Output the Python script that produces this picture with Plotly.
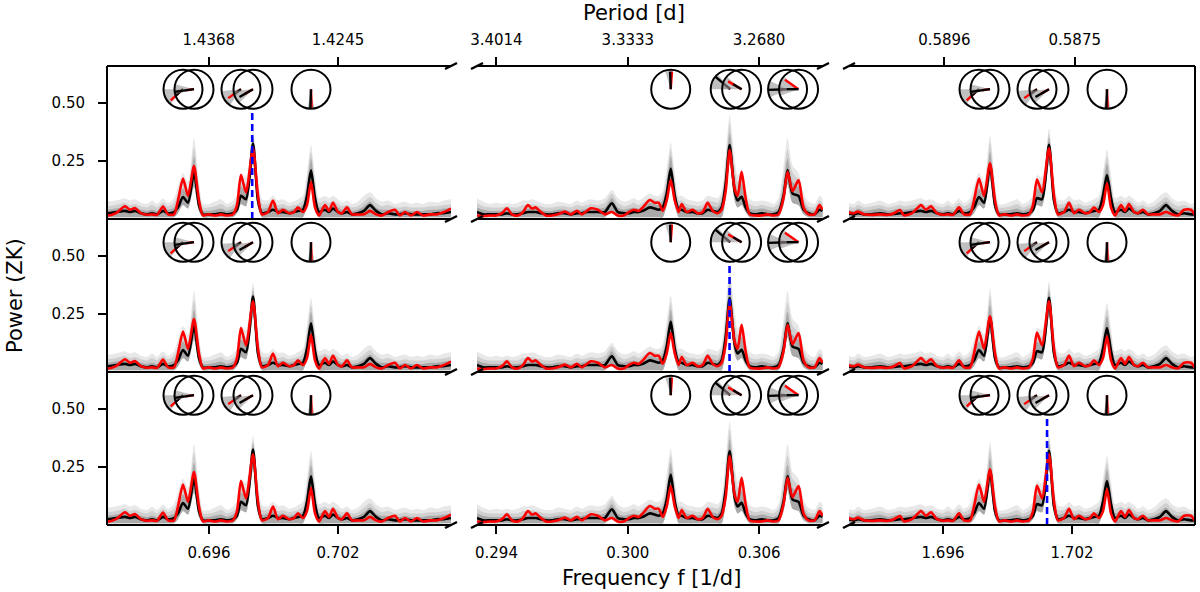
import math
import plotly.graph_objects as go

# ---------------- data ----------------
# column 1 : window around 0.698 1/d
f_c1 = [0.688698, 0.688977, 0.689163, 0.689442, 0.689814, 0.690186, 0.690558, 0.690837, 0.691116, 0.691302,
        0.691675, 0.692093, 0.692326, 0.692558, 0.692837, 0.693116, 0.693349, 0.693581, 0.693861, 0.694093,
        0.694372, 0.694558, 0.694791, 0.695023, 0.695302, 0.695535, 0.695721, 0.696000, 0.696279, 0.696558,
        0.696837, 0.697116, 0.697302, 0.697488, 0.697721, 0.698046, 0.698279, 0.698465, 0.698744, 0.698977,
        0.699209, 0.699442, 0.699721, 0.699953, 0.700139, 0.700372, 0.700558, 0.700744, 0.700930, 0.701116,
        0.701395, 0.701581, 0.701767, 0.702000, 0.702186, 0.702418, 0.702651, 0.702930, 0.703209, 0.703488,
        0.703767, 0.704046, 0.704325, 0.704651, 0.704883, 0.705116, 0.705395, 0.705674, 0.705953, 0.706279,
        0.706604, 0.706930, 0.707255]
red_c1 = [.030, .025, .032, .020, .018, .020, .018, .025, .039, .016,
          .025, .055, .040, .047, .025, .018, .020, .018, .054, .020,
          .020, .080, .175, .100, .228, .080, .016, .020, .015, .020,
          .015, .020, .060, .190, .115, .305, .100, .020, .030, .080,
          .025, .040, .025, .030, .050, .030, .060, .160, .050, .015,
          .060, .035, .070, .030, .025, .050, .020, .020, .020, .035,
          .020, .015, .030, .040, .015, .030, .015, .030, .015, .020,
          .020, .030, .045]
med_c1 = [.025, .020, .025, .020, .020, .025, .020, .022, .025, .025,
          .030, .035, .030, .035, .025, .020, .025, .020, .035, .025,
          .030, .050, .095, .070, .200, .060, .020, .020, .020, .025,
          .020, .025, .040, .100, .085, .325, .080, .025, .030, .040,
          .030, .030, .025, .030, .035, .040, .100, .210, .090, .030,
          .040, .030, .045, .030, .025, .030, .020, .025, .035, .060,
          .035, .020, .025, .020, .020, .025, .020, .020, .020, .020,
          .025, .025, .030]
lo_c1 = [.008, .008, .008, .008, .008, .008, .008, .008, .008, .008,
         .008, .008, .008, .008, .008, .008, .008, .008, .008, .008,
         .008, .025, .060, .045, .140, .035, .008, .008, .008, .008,
         .008, .008, .025, .065, .055, .240, .050, .008, .008, .008,
         .008, .008, .008, .008, .008, .008, .060, .150, .055, .008,
         .008, .008, .008, .008, .008, .008, .008, .008, .008, .008,
         .008, .008, .008, .008, .008, .008, .008, .008, .008, .008,
         .008, .008, .008]
dk_c1 = [.040, .035, .045, .035, .040, .045, .035, .040, .045, .040,
         .045, .050, .045, .050, .040, .035, .040, .035, .050, .040,
         .050, .080, .130, .100, .270, .100, .035, .035, .040, .045,
         .035, .045, .060, .140, .120, .350, .120, .045, .050, .060,
         .045, .050, .040, .045, .050, .060, .140, .260, .130, .050,
         .060, .050, .065, .050, .040, .045, .035, .040, .055, .075,
         .050, .040, .040, .035, .035, .040, .035, .035, .035, .040,
         .040, .045, .050]
md_c1 = [.055, .050, .060, .050, .055, .060, .050, .055, .060, .055,
         .060, .070, .060, .065, .055, .050, .060, .050, .070, .055,
         .070, .110, .170, .130, .310, .130, .050, .050, .055, .065,
         .050, .060, .080, .170, .150, .365, .150, .065, .065, .080,
         .060, .065, .055, .060, .065, .080, .170, .290, .160, .070,
         .080, .070, .080, .065, .055, .060, .050, .055, .075, .095,
         .070, .055, .060, .050, .050, .055, .050, .050, .050, .055,
         .055, .060, .065]
lt_c1 = [.070, .065, .080, .065, .070, .080, .065, .070, .080, .075,
         .080, .090, .080, .085, .070, .065, .080, .065, .090, .070,
         .090, .140, .200, .160, .350, .160, .065, .065, .075, .085,
         .065, .080, .100, .200, .180, .385, .180, .085, .080, .100,
         .080, .085, .070, .075, .085, .100, .200, .320, .190, .090,
         .100, .090, .100, .085, .070, .080, .065, .075, .100, .115,
         .090, .075, .080, .065, .070, .075, .065, .070, .065, .075,
         .070, .080, .085]

# column 2 : window around 0.302 1/d
f_c2 = [0.293110, 0.293384, 0.293703, 0.293977, 0.294251, 0.294479, 0.294707, 0.294981, 0.295209, 0.295437,
        0.295620, 0.295802, 0.296030, 0.296258, 0.296532, 0.296806, 0.297125, 0.297399, 0.297673, 0.297901,
        0.298129, 0.298312, 0.298631, 0.298951, 0.299270, 0.299544, 0.299817, 0.300046, 0.300274, 0.300502,
        0.300684, 0.301004, 0.301232, 0.301415, 0.301597, 0.301780, 0.301962, 0.302145, 0.302327, 0.302464,
        0.302692, 0.302966, 0.303194, 0.303422, 0.303650, 0.303879, 0.304107, 0.304289, 0.304472, 0.304654,
        0.304882, 0.305019, 0.305202, 0.305384, 0.305567, 0.305841, 0.306114, 0.306388, 0.306662, 0.306890,
        0.307118, 0.307301, 0.307529, 0.307803, 0.308031, 0.308259, 0.308533, 0.308761, 0.308898]
red_c2 = [.015, .012, .015, .015, .025, .046, .020, .015, .030, .060,
          .045, .050, .030, .015, .015, .020, .032, .020, .035, .020,
          .035, .046, .040, .020, .030, .015, .015, .030, .040, .035,
          .050, .082, .070, .070, .035, .080, .168, .080, .030, .065,
          .030, .040, .025, .030, .070, .035, .025, .040, .120, .297,
          .130, .100, .204, .090, .020, .015, .015, .020, .015, .020,
          .090, .204, .120, .168, .050, .020, .020, .060, .040]
med_c2 = [.030, .020, .020, .020, .020, .025, .020, .020, .025, .030,
          .030, .030, .025, .020, .020, .025, .025, .020, .025, .025,
          .030, .030, .030, .030, .068, .030, .025, .025, .030, .030,
          .035, .050, .045, .040, .050, .110, .218, .100, .040, .040,
          .030, .030, .025, .025, .040, .035, .030, .050, .150, .319,
          .120, .080, .096, .050, .025, .020, .025, .020, .020, .030,
          .100, .211, .110, .100, .040, .025, .020, .040, .035]
lo_c2 = [.008, .008, .008, .008, .008, .008, .008, .008, .008, .008,
         .008, .008, .008, .008, .008, .008, .008, .008, .008, .008,
         .008, .008, .008, .008, .030, .008, .008, .008, .008, .008,
         .008, .008, .008, .008, .008, .060, .160, .060, .008, .008,
         .008, .008, .008, .008, .008, .008, .008, .008, .090, .240,
         .080, .050, .060, .030, .008, .008, .008, .008, .008, .008,
         .060, .150, .070, .060, .020, .008, .008, .008, .008]
dk_c2 = [.050, .040, .035, .035, .035, .040, .035, .035, .040, .045,
         .045, .045, .040, .035, .035, .040, .040, .035, .040, .040,
         .045, .050, .045, .050, .090, .050, .040, .045, .050, .045,
         .050, .070, .065, .060, .080, .150, .270, .140, .060, .060,
         .050, .045, .040, .045, .060, .055, .050, .080, .200, .370,
         .180, .120, .150, .080, .045, .040, .045, .040, .035, .050,
         .150, .260, .160, .140, .070, .040, .035, .060, .050]
md_c2 = [.070, .055, .050, .050, .050, .055, .050, .050, .060, .060,
         .065, .060, .055, .050, .050, .055, .055, .050, .060, .055,
         .060, .065, .060, .070, .110, .070, .055, .060, .070, .060,
         .070, .090, .085, .080, .100, .180, .300, .170, .080, .080,
         .065, .060, .055, .060, .080, .075, .070, .100, .240, .410,
         .220, .160, .180, .110, .065, .055, .060, .055, .050, .070,
         .190, .300, .200, .170, .090, .055, .050, .080, .070]
lt_c2 = [.090, .075, .065, .070, .065, .070, .065, .070, .080, .080,
         .085, .080, .070, .065, .065, .075, .070, .065, .080, .070,
         .080, .085, .080, .090, .125, .090, .075, .080, .090, .080,
         .090, .110, .100, .100, .120, .220, .330, .200, .100, .100,
         .085, .080, .075, .080, .100, .095, .090, .120, .280, .448,
         .260, .190, .210, .130, .085, .075, .080, .075, .065, .090,
         .230, .350, .230, .200, .110, .075, .065, .100, .090]

# column 3 : window around 1.700 1/d (alias of column 1)
f_c3 = [1.691582, 1.691861, 1.692047, 1.692326, 1.692698, 1.693070, 1.693442, 1.693721, 1.694000, 1.694186,
        1.694559, 1.694977, 1.695210, 1.695442, 1.695721, 1.696000, 1.696233, 1.696465, 1.696745, 1.696977,
        1.697256, 1.697442, 1.697675, 1.697907, 1.698186, 1.698419, 1.698605, 1.698884, 1.699163, 1.699442,
        1.699721, 1.700000, 1.700186, 1.700372, 1.700605, 1.700930, 1.701163, 1.701349, 1.701628, 1.701861,
        1.702093, 1.702326, 1.702605, 1.702837, 1.703023, 1.703256, 1.703442, 1.703628, 1.703814, 1.704000,
        1.704279, 1.704465, 1.704651, 1.704884, 1.705070, 1.705302, 1.705535, 1.705814, 1.706093, 1.706372,
        1.706651, 1.706930, 1.707209, 1.707535, 1.707767, 1.708000, 1.708279, 1.708558, 1.708837, 1.709163,
        1.709488, 1.709814, 1.710139]
red_c3 = [.030, .025, .032, .020, .018, .020, .018, .025, .039, .016,
          .025, .060, .040, .055, .025, .018, .020, .018, .050, .020,
          .020, .080, .175, .100, .240, .080, .016, .020, .015, .020,
          .015, .020, .060, .170, .115, .305, .100, .020, .030, .070,
          .025, .040, .025, .030, .050, .030, .060, .154, .050, .015,
          .060, .035, .065, .030, .025, .040, .020, .020, .020, .030,
          .020, .015, .040, .040, .015, .030, .015, .030, .015, .020,
          .020, .030, .045]
med_c3 = [.025, .020, .025, .020, .020, .025, .020, .022, .025, .025,
          .030, .035, .030, .035, .025, .020, .025, .020, .035, .025,
          .030, .050, .095, .070, .235, .060, .020, .020, .020, .025,
          .020, .025, .040, .090, .085, .320, .080, .025, .030, .040,
          .030, .030, .025, .030, .035, .040, .100, .190, .090, .030,
          .040, .030, .045, .030, .025, .030, .020, .025, .035, .060,
          .035, .020, .025, .020, .020, .025, .020, .020, .020, .020,
          .025, .025, .030]
lo_c3 = [.008, .008, .008, .008, .008, .008, .008, .008, .008, .008,
         .008, .008, .008, .008, .008, .008, .008, .008, .008, .008,
         .008, .025, .060, .045, .170, .035, .008, .008, .008, .008,
         .008, .008, .025, .060, .055, .240, .050, .008, .008, .008,
         .008, .008, .008, .008, .008, .008, .060, .130, .055, .008,
         .008, .008, .008, .008, .008, .008, .008, .008, .008, .008,
         .008, .008, .008, .008, .008, .008, .008, .008, .008, .008,
         .008, .008, .008]
dk_c3 = [.040, .035, .045, .035, .040, .045, .035, .040, .045, .040,
         .045, .050, .045, .050, .040, .035, .040, .035, .050, .040,
         .050, .080, .130, .100, .290, .100, .035, .035, .040, .045,
         .035, .045, .060, .130, .120, .350, .120, .045, .050, .060,
         .045, .050, .040, .045, .050, .060, .140, .240, .130, .050,
         .060, .050, .065, .050, .040, .045, .035, .040, .055, .075,
         .050, .040, .040, .035, .035, .040, .035, .035, .035, .040,
         .040, .045, .050]
md_c3 = [.055, .050, .060, .050, .055, .060, .050, .055, .060, .055,
         .060, .070, .060, .065, .055, .050, .060, .050, .070, .055,
         .070, .110, .170, .130, .330, .130, .050, .050, .055, .065,
         .050, .060, .080, .160, .150, .370, .150, .065, .065, .080,
         .060, .065, .055, .060, .065, .080, .170, .270, .160, .070,
         .080, .070, .080, .065, .055, .060, .050, .055, .075, .095,
         .070, .055, .060, .050, .050, .055, .050, .050, .050, .055,
         .055, .060, .065]
lt_c3 = [.070, .065, .080, .065, .070, .080, .065, .070, .080, .075,
         .080, .090, .080, .085, .070, .065, .080, .065, .090, .070,
         .090, .140, .200, .160, .360, .160, .065, .065, .075, .085,
         .065, .080, .100, .190, .180, .390, .180, .085, .080, .100,
         .080, .085, .070, .075, .085, .100, .200, .300, .190, .090,
         .100, .090, .100, .085, .070, .080, .065, .075, .100, .115,
         .090, .075, .080, .065, .070, .075, .065, .070, .065, .075,
         .070, .080, .085]

# tick labels
freq_ticks_c1 = [0.696, 0.702]
freq_ticks_c2 = [0.294, 0.300, 0.306]
freq_ticks_c3 = [1.696, 1.702]
period_ticks_c1 = [1.4368, 1.4245]
period_ticks_c2 = [3.4014, 3.3333, 3.2680]
period_ticks_c3 = [0.5896, 0.5875]
power_ticks = [0.25, 0.50]

# phase circles: centre frequency, arrow angles (deg) and lengths (fraction of radius)
circ_f_c1 = [0.694791, 0.695302, 0.697488, 0.698046, 0.700744]
circ_f_c2 = [0.301962, 0.304680, 0.305202, 0.307301, 0.307803]
circ_f_c3 = [1.697675, 1.698186, 1.700372, 1.700930, 1.703628]
red_ang_a = [222, 188, 215, 210, 272]
red_len_a = [0.85, 0.4, 0.8, 0.5, 0.95]
blk_ang_a = [222, 188, 215, 210, 268]
blk_len_a = [0.5, 1.0, 0.45, 0.8, 1.0]
wdg_ang_a = [205, 180, 210, 205, 270]
wdg_hw_a = [25, 15, 25, 20, 10]
red_ang_b = [86, 140, 150, 180, 145]
red_len_b = [0.9, 0.4, 0.8, 0.4, 0.85]
blk_ang_b = [92, 140, 150, 182, 180]
blk_len_b = [0.9, 1.0, 0.5, 1.0, 0.6]
wdg_ang_b = [95, 155, 160, 180, 170]
wdg_hw_b = [12, 25, 20, 25, 30]

# blue dashed marker: row i, column i
marked_freq = [0.69801, 0.30465, 1.70084]

# ---------------- layout geometry (pixels) ----------------
W, H = 1200, 592
COL_PX = [(107, 451), (477, 823), (849, 1195)]
ROW_PX = [(66, 219), (219, 372), (372, 525)]
X_RANGE = [[0.691256, 0.707256], [0.293110, 0.308920], [1.691628, 1.707721]]
YMAX = 0.66
CIRC_Y = 0.56
CIRC_R = 19.5  # px

columns = [
    dict(f=f_c1, red=red_c1, med=med_c1, lo=lo_c1, bands=(lt_c1, md_c1, dk_c1), ft=freq_ticks_c1,
         pt=period_ticks_c1, cf=circ_f_c1, ra=red_ang_a, rl=red_len_a, ba=blk_ang_a, bl=blk_len_a,
         wa=wdg_ang_a, wh=wdg_hw_a),
    dict(f=f_c2, red=red_c2, med=med_c2, lo=lo_c2, bands=(lt_c2, md_c2, dk_c2), ft=freq_ticks_c2,
         pt=period_ticks_c2, cf=circ_f_c2, ra=red_ang_b, rl=red_len_b, ba=blk_ang_b, bl=blk_len_b,
         wa=wdg_ang_b, wh=wdg_hw_b),
    dict(f=f_c3, red=red_c3, med=med_c3, lo=lo_c3, bands=(lt_c3, md_c3, dk_c3), ft=freq_ticks_c3,
         pt=period_ticks_c3, cf=circ_f_c3, ra=red_ang_a, rl=red_len_a, ba=blk_ang_a, bl=blk_len_a,
         wa=wdg_ang_a, wh=wdg_hw_a),
]
BAND_COLORS = ['#e8e8e8', '#d0d0d0', '#aaaaaa']
FONT = 'DejaVu Sans'
SPL = dict(shape='spline', smoothing=0.7)

fig = go.Figure()
shapes = []
layout = {}


def px2paper(x, y):
    return x / W, 1 - y / H


for r in range(3):
    for c in range(3):
        k = r * 3 + c + 1
        sfx = '' if k == 1 else str(k)
        xa, ya = 'x' + sfx, 'y' + sfx
        col = columns[c]
        x0, x1 = COL_PX[c]
        y0, y1 = ROW_PX[r]
        xr = X_RANGE[c]
        kx = (xr[1] - xr[0]) / (x1 - x0)   # freq per px
        ky = YMAX / (y1 - y0)              # power per px

        # axes
        xax = dict(domain=[x0 / W, x1 / W], range=xr, anchor=ya, showgrid=False, zeroline=False,
                   showline=False, fixedrange=True, tickcolor='black', ticklen=8, tickwidth=1.8,
                   automargin=False, tickfont=dict(family=FONT, size=15, color='black'))
        if r == 0:
            xax.update(side='top', ticks='outside', tickvals=[1 / p for p in col['pt']],
                       ticktext=['%.4f' % p for p in col['pt']], ticklabelstandoff=6)
        elif r == 2:
            xax.update(side='bottom', ticks='outside', tickvals=col['ft'],
                       ticktext=['%.3f' % v for v in col['ft']], ticklabelstandoff=6)
        else:
            xax.update(ticks='', showticklabels=False)
        yax = dict(domain=[1 - y1 / H, 1 - y0 / H], range=[0, YMAX], anchor=xa, showgrid=False,
                   zeroline=False, showline=False, fixedrange=True, automargin=False)
        if c == 0:
            yax.update(ticks='outside', tickvals=power_ticks, ticktext=['%.2f' % v for v in power_ticks],
                       ticklen=8, tickwidth=1.8, tickcolor='black', ticklabelstandoff=10,
                       tickfont=dict(family=FONT, size=15, color='black'))
        else:
            yax.update(ticks='', showticklabels=False)
        layout['xaxis' + sfx] = xax
        layout['yaxis' + sfx] = yax

        # quantile bands of the simulations
        for band, bc in zip(col['bands'], BAND_COLORS):
            fig.add_trace(go.Scatter(x=col['f'], y=col['lo'], xaxis=xa, yaxis=ya, mode='lines',
                                     line=dict(width=0, **SPL), hoverinfo='skip', showlegend=False))
            fig.add_trace(go.Scatter(x=col['f'], y=band, xaxis=xa, yaxis=ya, mode='lines',
                                     line=dict(width=0, **SPL), fill='tonexty', fillcolor=bc,
                                     hoverinfo='skip', showlegend=False))
        fig.add_trace(go.Scatter(x=col['f'], y=col['med'], xaxis=xa, yaxis=ya, mode='lines',
                                 line=dict(color='black', width=2.6, **SPL),
                                 hoverinfo='skip', showlegend=False))
        fig.add_trace(go.Scatter(x=col['f'], y=col['red'], xaxis=xa, yaxis=ya, mode='lines',
                                 line=dict(color='#ff0000', width=2.6, **SPL),
                                 hoverinfo='skip', showlegend=False))
        if r == c:
            fm = marked_freq[r]
            fig.add_trace(go.Scatter(x=[fm, fm], y=[0, YMAX], xaxis=xa, yaxis=ya, mode='lines',
                                     line=dict(color='#0000ff', width=2.6, dash='7px,4px'),
                                     hoverinfo='skip', showlegend=False))

        # phase circles: white discs, wedges, arrows
        rx, ry = CIRC_R * kx, CIRC_R * ky
        for fc in col['cf']:
            th = [2 * math.pi * i / 48 for i in range(49)]
            fig.add_trace(go.Scatter(x=[fc + rx * math.cos(t) for t in th],
                                     y=[CIRC_Y + ry * math.sin(t) for t in th],
                                     xaxis=xa, yaxis=ya, mode='lines', fill='toself', fillcolor='white',
                                     line=dict(width=0), hoverinfo='skip', showlegend=False))
        for i, fc in enumerate(col['cf']):
            a0, hw = col['wa'][i], col['wh'][i]
            angs = [math.radians(a0 - hw + 2 * hw * j / 12) for j in range(13)]
            fig.add_trace(go.Scatter(x=[fc] + [fc + rx * math.cos(a) for a in angs] + [fc],
                                     y=[CIRC_Y] + [CIRC_Y + ry * math.sin(a) for a in angs] + [CIRC_Y],
                                     xaxis=xa, yaxis=ya, mode='lines', fill='toself',
                                     fillcolor='rgba(150,150,150,0.6)', line=dict(width=0),
                                     hoverinfo='skip', showlegend=False))
            for ang, ln, clr in ((col['ra'][i], col['rl'][i], '#ff0000'),
                                 (col['ba'][i], col['bl'][i], 'black')):
                a = math.radians(ang)
                fig.add_trace(go.Scatter(x=[fc, fc + ln * rx * math.cos(a)],
                                         y=[CIRC_Y, CIRC_Y + ln * ry * math.sin(a)],
                                         xaxis=xa, yaxis=ya, mode='lines',
                                         line=dict(color=clr, width=2.4),
                                         hoverinfo='skip', showlegend=False))
            shapes.append(dict(type='circle', xref=xa, yref=ya, x0=fc - rx, x1=fc + rx,
                               y0=CIRC_Y - ry, y1=CIRC_Y + ry, line=dict(color='black', width=2),
                               layer='above'))

# frame: horizontal lines per column, outer verticals, break marks
for yp in (66, 219, 372, 525):
    for c, (x0, x1) in enumerate(COL_PX):
        a, b = px2paper(x0, yp)
        d, _ = px2paper(x1, yp)
        shapes.append(dict(type='line', xref='paper', yref='paper', x0=a, x1=d, y0=b, y1=b,
                           line=dict(color='black', width=2)))
        ends = []
        if c > 0:
            ends.append(x0)
        if c < 2:
            ends.append(x1)
        for xe in ends:
            p0 = px2paper(xe - 6, yp + 3)
            p1 = px2paper(xe + 6, yp - 3)
            shapes.append(dict(type='line', xref='paper', yref='paper', x0=p0[0], y0=p0[1],
                               x1=p1[0], y1=p1[1], line=dict(color='black', width=2.4)))
for xp in (107, 1195):
    a, b = px2paper(xp, 66)
    _, d = px2paper(xp, 525)
    shapes.append(dict(type='line', xref='paper', yref='paper', x0=a, x1=a, y0=d, y1=b,
                       line=dict(color='black', width=2)))

annotations = [
    dict(text='Period [d]', x=634 / W, y=1 - 13 / H, xref='paper', yref='paper', showarrow=False,
         xanchor='center', yanchor='middle', font=dict(family=FONT, size=21, color='black')),
    dict(text='Frequency f [1/d]', x=651 / W, y=1 - 578 / H, xref='paper', yref='paper', showarrow=False,
         xanchor='center', yanchor='middle', font=dict(family=FONT, size=21, color='black')),
    dict(text='Power (ZK)', x=15 / W, y=1 - 296 / H, xref='paper', yref='paper', showarrow=False,
         textangle=-90, xanchor='center', yanchor='middle', font=dict(family=FONT, size=21, color='black')),
]

fig.update_layout(width=W, height=H, margin=dict(l=0, r=0, t=0, b=0), paper_bgcolor='white',
                  plot_bgcolor='white', showlegend=False, shapes=shapes, annotations=annotations,
                  font=dict(family=FONT, color='black'), **layout)
fig.write_html("out.html", config={'displayModeBar': False},
               post_script="document.body.style.margin='0';")
